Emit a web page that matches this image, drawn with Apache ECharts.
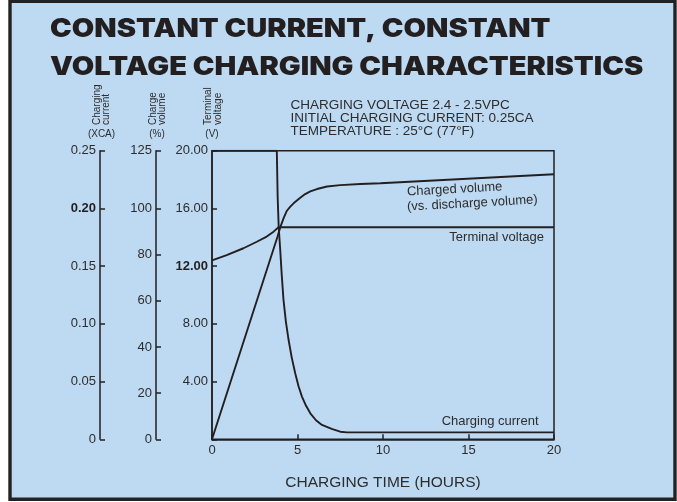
<!DOCTYPE html>
<html>
<head>
<meta charset="utf-8">
<script src="https://cdn.jsdelivr.net/npm/echarts@6/dist/echarts.min.js"></script>
<style>
html,body{margin:0;padding:0;background:#fff;}
#c{width:677px;height:502px;}
</style>
</head>
<body>
<div id="c"></div>
<script>
// ---- data ----
const currentHours = [0, 3.79, 3.84, 3.9, 3.99, 4.08, 4.18, 4.32, 4.48, 4.66, 4.87, 5.06, 5.26, 5.5, 5.75, 6.08, 6.43, 7.0, 7.5, 7.9, 20];
const currentCA    = [0.25, 0.25, 0.21, 0.184, 0.164, 0.142, 0.121, 0.102, 0.086, 0.071, 0.057, 0.046, 0.037, 0.029, 0.0225, 0.0165, 0.0124, 0.009, 0.0066, 0.006, 0.006];

const volumeHours  = [0, 3.83, 4.0, 4.2, 4.38, 4.58, 4.77, 5.16, 5.45, 5.75, 6.14, 6.73, 7.5, 8.68, 9.85, 20];
const volumePct    = [0, 87.7, 92, 96, 99, 100.8, 102.2, 104.6, 106.2, 107.4, 108.4, 109.5, 110.1, 110.6, 110.9, 114.8];

const voltageHours = [0, 0.86, 1.84, 2.62, 3.2, 3.6, 3.89, 20];
const voltageV     = [12.4, 12.77, 13.24, 13.69, 14.05, 14.39, 14.69, 14.69];

const xTicks       = [0, 5, 10, 15, 20];
const voltageTicks = [0, 4, 8, 12, 16, 20];
const voltageLabels= ['', '4.00', '8.00', '12.00', '16.00', '20.00'];
const volumeTicks  = [0, 20, 40, 60, 80, 100, 125];
const currentTicks = [0, 0.05, 0.10, 0.15, 0.20, 0.25];
const currentLabels= ['0', '0.05', '0.10', '0.15', '0.20', '0.25'];

const titleLines = ['CONSTANT CURRENT, CONSTANT', 'VOLTAGE CHARGING CHARACTERISTICS'];
const noteLines = ['CHARGING VOLTAGE 2.4 - 2.5VPC', 'INITIAL CHARGING CURRENT: 0.25CA', 'TEMPERATURE : 25°C (77°F)'];

// ---- chart ----
const INK = '#231f20';
const TXT = '#2e2c2d';
const FONT = '"Liberation Sans", Arial, sans-serif';
const TITLE_FONT = '900 25.5px Inter, "Liberation Sans", sans-serif';
const chart = echarts.init(document.getElementById('c'), null, {renderer: 'canvas'});

function pairs(xs, ys) { return xs.map((x, i) => [x, ys[i]]); }

function yAxisBase(offset, min, max, ticks, fmt) {
  return {
    type: 'value', position: 'left', offset: offset, min: min, max: max,
    axisLine: {show: true, lineStyle: {color: INK, width: 1.5}},
    axisTick: {show: true, inside: true, length: 5, lineStyle: {color: INK, width: 1.5}, customValues: ticks},
    axisLabel: {
      show: true, margin: 4, color: TXT, fontSize: 13, fontFamily: FONT, customValues: ticks,
      formatter: fmt,
      rich: {b: {fontWeight: 'bold', fontSize: 13, fontFamily: FONT, color: INK}}
    },
    splitLine: {show: false}
  };
}

const lineStyle = {color: INK, width: 1.9};

const option = {
  backgroundColor: '#ffffff',
  animation: false,
  grid: {left: 212, right: 123, top: 150.7, bottom: 62.7, show: true, borderColor: INK, borderWidth: 1.5, backgroundColor: 'transparent'},
  xAxis: {
    type: 'value', min: 0, max: 20, interval: 5,
    name: 'CHARGING TIME (HOURS)', nameLocation: 'middle', nameGap: 35,
    nameTextStyle: {color: TXT, fontSize: 15.5, fontFamily: FONT},
    axisLine: {show: true, lineStyle: {color: INK, width: 1.5}},
    axisTick: {show: true, inside: true, length: 5, lineStyle: {color: INK, width: 1.5}},
    axisLabel: {color: TXT, fontSize: 13, fontFamily: FONT, margin: 5, formatter: v => xTicks.indexOf(v) >= 0 ? String(v) : ''},
    splitLine: {show: false}
  },
  yAxis: [
    yAxisBase(0, 0, 20, voltageTicks, v => {
      const i = voltageTicks.indexOf(v); const s = i >= 0 ? voltageLabels[i] : '';
      return v === 12 ? '{b|' + s + '}' : s;
    }),
    yAxisBase(56, 0, 125, volumeTicks, v => String(v)),
    yAxisBase(112, 0, 0.25, currentTicks, v => {
      let i = -1; currentTicks.forEach((t, k) => { if (Math.abs(t - v) < 1e-6) i = k; });
      const s = i >= 0 ? currentLabels[i] : '';
      return Math.abs(v - 0.2) < 1e-6 ? '{b|' + s + '}' : s;
    })
  ],
  series: [
    {name: 'Charging current', type: 'line', yAxisIndex: 2, data: pairs(currentHours, currentCA), symbol: 'none',
     smooth: false, lineStyle: lineStyle, z: 3},
    {name: 'Charged volume', type: 'line', yAxisIndex: 1, data: pairs(volumeHours, volumePct), symbol: 'none',
     smooth: false, lineStyle: lineStyle, z: 3},
    {name: 'Terminal voltage', type: 'line', yAxisIndex: 0, data: pairs(voltageHours, voltageV), symbol: 'none',
     smooth: false, lineStyle: lineStyle, z: 3}
  ],
  graphic: [
    {type: 'rect', z: -100, silent: true, shape: {x: 10, y: 1.3, width: 665, height: 498},
     style: {fill: '#bddaf2', stroke: '#222', lineWidth: 3.4}},
    {type: 'text', x: 50, y: 29, scaleX: 1.14, z: 10, style: {text: titleLines[0], fill: INK, font: TITLE_FONT, verticalAlign: 'middle'}},
    {type: 'text', x: 50, y: 67.5, scaleX: 1.14, z: 10, style: {text: titleLines[1], fill: INK, font: TITLE_FONT, verticalAlign: 'middle'}},
    {type: 'text', x: 290.5, y: 105.5, z: 10, style: {text: noteLines[0], fill: TXT, font: '13.5px ' + FONT, verticalAlign: 'middle'}},
    {type: 'text', x: 290.5, y: 118.5, z: 10, style: {text: noteLines[1], fill: TXT, font: '13.5px ' + FONT, verticalAlign: 'middle'}},
    {type: 'text', x: 290.5, y: 131.5, z: 10, style: {text: noteLines[2], fill: TXT, font: '13.5px ' + FONT, verticalAlign: 'middle'}},
    // axis titles
    {type: 'text', x: 101.5, y: 125, rotation: Math.PI / 2, z: 10, style: {text: 'Charging\ncurrent', fill: TXT, font: '10px ' + FONT, lineHeight: 9.5, align: 'left', verticalAlign: 'middle'}},
    {type: 'text', x: 101.5, y: 134, z: 10, style: {text: '(XCA)', fill: TXT, font: '10px ' + FONT, align: 'center', verticalAlign: 'middle'}},
    {type: 'text', x: 157.5, y: 125, rotation: Math.PI / 2, z: 10, style: {text: 'Charge\nvolume', fill: TXT, font: '10px ' + FONT, lineHeight: 9.5, align: 'left', verticalAlign: 'middle'}},
    {type: 'text', x: 157, y: 134, z: 10, style: {text: '(%)', fill: TXT, font: '10px ' + FONT, align: 'center', verticalAlign: 'middle'}},
    {type: 'text', x: 213.3, y: 125, rotation: Math.PI / 2, z: 10, style: {text: 'Terminal\nvoltage', fill: TXT, font: '10px ' + FONT, lineHeight: 9.5, align: 'left', verticalAlign: 'middle'}},
    {type: 'text', x: 212, y: 134, z: 10, style: {text: '(V)', fill: TXT, font: '10px ' + FONT, align: 'center', verticalAlign: 'middle'}},
    // curve labels
    {type: 'text', x: 407, y: 192, rotation: 0.055, z: 10, style: {text: 'Charged volume', fill: TXT, font: '13px ' + FONT, verticalAlign: 'middle'}},
    {type: 'text', x: 407, y: 207, rotation: 0.055, z: 10, style: {text: '(vs. discharge volume)', fill: TXT, font: '13px ' + FONT, verticalAlign: 'middle'}},
    {type: 'text', x: 544, y: 237.5, z: 10, style: {text: 'Terminal voltage', fill: TXT, font: '13px ' + FONT, align: 'right', verticalAlign: 'middle'}},
    {type: 'text', x: 538.5, y: 421.5, z: 10, style: {text: 'Charging current', fill: TXT, font: '13px ' + FONT, align: 'right', verticalAlign: 'middle'}}
  ]
};
chart.setOption(option);
</script>
</body>
</html>
